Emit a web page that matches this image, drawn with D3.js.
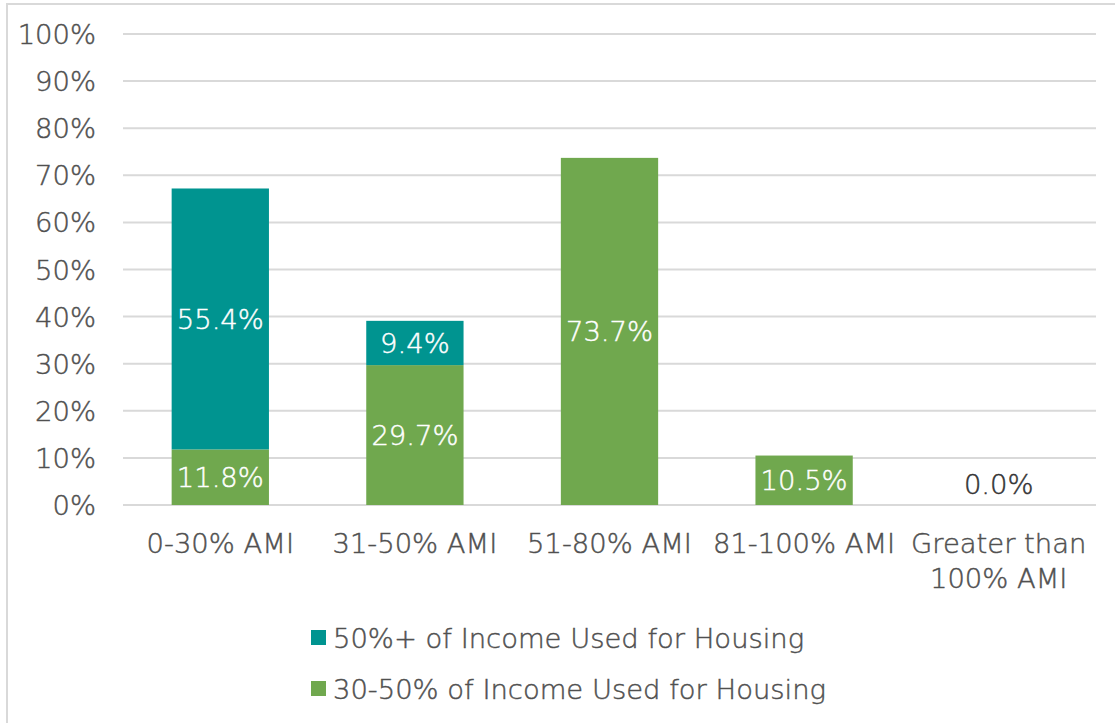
<!DOCTYPE html>
<html>
<head>
<meta charset="utf-8">
<script src="https://cdn.jsdelivr.net/npm/d3@7"></script>
<style>
  html, body { margin: 0; padding: 0; background: #fff; }
  svg { display: block; }
  text { font-family: "DejaVu Sans", "Lato", sans-serif; font-weight: 300; }
</style>
</head>
<body>
<svg id="chart" width="1115" height="723"></svg>
<script>
// Share of households by income band, split by housing cost burden
const categories = ["0-30% AMI", "31-50% AMI", "51-80% AMI", "81-100% AMI", "Greater than 100% AMI"];
const categoryLines = [["0-30% AMI"], ["31-50% AMI"], ["51-80% AMI"], ["81-100% AMI"], ["Greater than", "100% AMI"]];
const moderateBurden = [11.8, 29.7, 73.7, 10.5, 0.0];   // 30-50% of income
const severeBurden = [55.4, 9.4, null, null, null];      // 50%+ of income
const seriesNames = ["50%+ of Income Used for Housing", "30-50% of Income Used for Housing"];
const yTicks = [0, 10, 20, 30, 40, 50, 60, 70, 80, 90, 100];

const colors = { severe: "#009490", moderate: "#70A84E" };
const FONT_SIZE = 27.4;
const TEXT_GREY = "#505050";

const svg = d3.select("#chart");

// Thin outline gives the light face a little more body
function ink(sel, color) {
  return sel.attr("fill", color).attr("stroke", color).attr("stroke-width", 0.45);
}

// Chart frame
svg.append("rect")
  .attr("x", 7).attr("y", 4)
  .attr("width", 1125).attr("height", 740)
  .attr("fill", "#fff")
  .attr("stroke", "#d9d9d9").attr("stroke-width", 2);

const plot = { left: 123, right: 1096, top: 34, bottom: 505 };

const x = d3.scaleBand()
  .domain(categories)
  .range([plot.left, plot.right])
  .paddingInner(0.5).paddingOuter(0.25);

const y = d3.scaleLinear()
  .domain([0, 100])
  .range([plot.bottom, plot.top]);

// Gridlines
svg.append("g")
  .selectAll("line")
  .data(yTicks)
  .join("line")
  .attr("x1", plot.left).attr("x2", plot.right)
  .attr("y1", d => y(d)).attr("y2", d => y(d))
  .attr("stroke", "#d9d9d9").attr("stroke-width", 2);

// Y axis labels
const yAxis = d3.axisLeft(y).tickValues(yTicks).tickFormat(d => d + "%").tickSize(0).tickPadding(0);
const yg = svg.append("g").attr("transform", `translate(${plot.left - 27},0)`).call(yAxis);
yg.select(".domain").remove();
yg.attr("font-family", null).attr("font-size", null);
ink(yg.selectAll("text"), TEXT_GREY)
  .attr("font-size", FONT_SIZE)
  .attr("dy", "0.35em");

// Stack data
const stacked = categories.map((c, i) => {
  const m = moderateBurden[i] || 0;
  const s = severeBurden[i] || 0;
  return { cat: c, m, s, mRaw: moderateBurden[i], sRaw: severeBurden[i] };
});

const bars = svg.append("g");

// 30-50% segment (bottom)
bars.selectAll("rect.mod")
  .data(stacked.filter(d => d.m > 0))
  .join("rect")
  .attr("class", "mod")
  .attr("x", d => x(d.cat))
  .attr("width", x.bandwidth())
  .attr("y", d => y(d.m))
  .attr("height", d => y(0) - y(d.m))
  .attr("fill", colors.moderate);

// 50%+ segment (top)
bars.selectAll("rect.sev")
  .data(stacked.filter(d => d.s > 0))
  .join("rect")
  .attr("class", "sev")
  .attr("x", d => x(d.cat))
  .attr("width", x.bandwidth())
  .attr("y", d => y(d.m + d.s))
  .attr("height", d => y(d.m) - y(d.m + d.s))
  .attr("fill", colors.severe);

// Value labels
const labels = svg.append("g").attr("text-anchor", "middle").attr("font-size", FONT_SIZE);

labels.selectAll("text.mod")
  .data(stacked.filter(d => d.mRaw !== null))
  .join("text")
  .attr("class", "mod")
  .attr("x", d => x(d.cat) + x.bandwidth() / 2)
  .attr("y", d => d.m > 0 ? y(d.m / 2) : y(0) - 21)
  .attr("dy", "0.35em")
  .each(function (d) { ink(d3.select(this), d.m > 0 ? "#fff" : "#333"); })
  .text(d => d.mRaw.toFixed(1) + "%");

ink(labels.selectAll("text.sev")
  .data(stacked.filter(d => d.sRaw !== null))
  .join("text")
  .attr("class", "sev")
  .attr("x", d => x(d.cat) + x.bandwidth() / 2)
  .attr("y", d => y(d.m + d.s / 2))
  .attr("dy", "0.35em"), "#fff")
  .text(d => d.sRaw.toFixed(1) + "%");

// Category labels
const xl = ink(svg.append("g").attr("text-anchor", "middle").attr("font-size", FONT_SIZE), TEXT_GREY);
categories.forEach((c, i) => {
  const t = xl.append("text")
    .attr("x", x(c) + x.bandwidth() / 2)
    .attr("y", 553);
  categoryLines[i].forEach((line, j) => {
    t.append("tspan")
      .attr("x", x(c) + x.bandwidth() / 2)
      .attr("dy", j === 0 ? 0 : 35)
      .text(line);
  });
});

// Legend
const legendItems = [
  { name: seriesNames[0], color: colors.severe },
  { name: seriesNames[1], color: colors.moderate }
];
const lg = svg.append("g");
legendItems.forEach((d, i) => {
  const cy = 638 + i * 51;
  lg.append("rect")
    .attr("x", 311).attr("y", cy - 8)
    .attr("width", 15).attr("height", 15)
    .attr("fill", d.color);
  ink(lg.append("text")
    .attr("x", 333).attr("y", cy)
    .attr("dy", "0.35em")
    .attr("font-size", FONT_SIZE), TEXT_GREY)
    .text(d.name);
});
</script>
</body>
</html>
